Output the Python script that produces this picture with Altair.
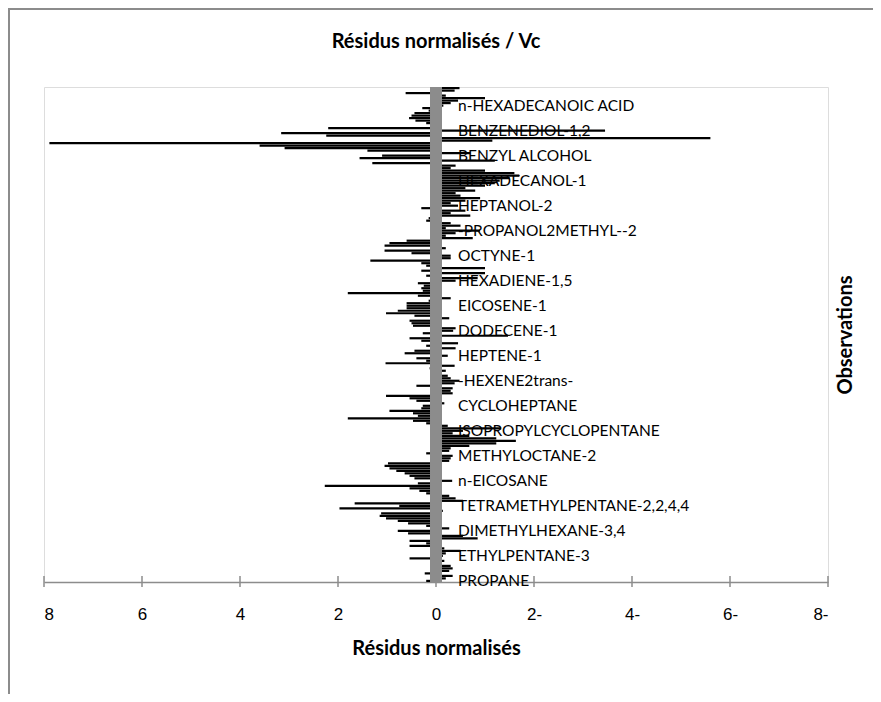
import altair as alt
import pandas as pd

chart_title = "Résidus normalisés / Vc"
x_title = "Résidus normalisés"
y_title = "Observations"

residuals_top_to_bottom = [
    -0.48, -0.38, 0.62, -0.2, -1.0, -0.45, -0.3,
    -0.15, 0.28, 0.15, 0.44, 0.5, 0.55, 0.42, 0.2, -0.1, 2.2,
    -3.45, 3.16, 2.24, -5.6, -1.15, 7.89, 3.6, 3.09, 1.4, -0.7,
    1.1, 1.56, -1.2, 1.3, -0.4, -0.3, -1.0, -1.6, -1.7, -1.5,
    -1.3, -1.2, -1.0, -0.6, -0.8, -0.4, -0.5, -0.9, -0.6, -0.3,
    -0.45, 0.3, -0.6, -0.3, -0.7, 0.15, 0.2, -0.3, -0.5, -0.2,
    -0.9, -0.4, -0.2, -0.75, 0.6, 0.95, 1.05, -0.2, 1.05, 0.5,
    -0.3, -0.3, 1.34, 0.3, 0.2, -1.0, 0.3, -1.0, 0.2, -0.85,
    -0.4, 0.37, 0.25, 0.3, 0.27, 1.8, 0.37, -0.3, 0.15, 0.6,
    0.6, 0.6, 0.78, 1.02, 0.44, -0.27, 0.54, 0.5, 0.47, -0.4,
    -0.35, 0.27, -1.47, 0.54, 0.3, -0.45, 0.2, -0.4, 0.44, 0.64,
    -0.24, 0.4, 0.2, 1.03, -0.38, 0.13, -0.2, 0.1, -0.24, -0.3,
    -0.48, -0.38, 0.4, -0.34, -0.3, -0.34, 1.02, 0.54, 0.4, -0.17,
    0.27, 0.3, 0.95, 0.47, 0.37, 1.8, 0.47, 0.2, -0.24, -1.33,
    -0.55, -0.34, -0.68, -1.23, -1.63, -1.23, -0.68, -0.3, -0.27, 0.2,
    -0.34, -0.3, -0.27, 0.98, 1.05, 0.95, 0.81, 0.64, 0.54, 0.44,
    -0.33, 0.37, 2.27, 0.54, 0.34, 0.2, -0.27, -0.4, -0.55, 1.66,
    0.75, 1.97, -0.14, 1.12, 1.15, 1.02, 0.78, 0.57, 0.2, -0.27,
    0.78, 0.57, -0.55, -0.85, 0.54, 0.2, 0.54, -0.17, -0.5, -0.2,
    -0.14, 0.54, -0.17, 0.1, -0.3, -0.34, -0.27, 0.23, -0.34, -0.2,
    0.2,
]

# category labels shown on the axis (every 10th observation), top first
label_names_top_to_bottom = [
    "n-HEXADECANOIC ACID", "BENZENEDIOL-1,2", "BENZYL ALCOHOL",
    "HEXADECANOL-1", "HEPTANOL-2", "-PROPANOL2METHYL--2", "OCTYNE-1",
    "HEXADIENE-1,5", "EICOSENE-1", "DODECENE-1", "HEPTENE-1",
    "-HEXENE2trans-", "CYCLOHEPTANE", "ISOPROPYLCYCLOPENTANE",
    "METHYLOCTANE-2", "n-EICOSANE", "TETRAMETHYLPENTANE-2,2,4,4",
    "DIMETHYLHEXANE-3,4", "ETHYLPENTANE-3", "PROPANE",
]
label_step = 10
x_ticks = [-8, -6, -4, -2, 0, 2, 4, 6, 8]

N = len(residuals_top_to_bottom)
bars = pd.DataFrame({
    "obs": [str(N - 1 - k) for k in range(N)],
    "res": residuals_top_to_bottom,
})
nl = len(label_names_top_to_bottom)
labels = pd.DataFrame({
    "obs": [str((nl - 1 - k) * label_step) for k in range(nl)],
    "name": label_names_top_to_bottom,
    "zero": [0] * nl,
})
ticks = pd.DataFrame({"t": x_ticks})
title_df = pd.DataFrame({"txt": [chart_title]})

W, H = 784, 495
GRAY = "#8c8c8c"

y_dom = [str(i) for i in range(N - 1, -1, -1)]
yscale = alt.Scale(domain=y_dom, paddingInner=0.12, paddingOuter=0)
xscale = alt.Scale(domain=[-8, 8], reverse=True, nice=False)

x_axis = alt.Axis(
    values=x_ticks, title=x_title, grid=False, tickSize=0,
    labelExpr="datum.value < 0 ? format(-datum.value, 'd') + '-' : format(datum.value, 'd')",
    labelFont="Liberation Sans", labelFontSize=17, labelColor="black", labelPadding=24,
    titleFont="Lato", titleFontSize=20, titleFontWeight="bold", titleColor="black",
    titlePadding=16, domainColor=GRAY, domainWidth=1.5,
)
y_axis = alt.Axis(
    orient="right", labels=False, ticks=False, domain=False, grid=False,
    title=y_title, titleAngle=270, titleFont="Lato", titleFontSize=20,
    titleFontWeight="bold", titleColor="black", titlePadding=27,
)

bar_layer = alt.Chart(bars).mark_bar(color="black").encode(
    x=alt.X("res:Q", scale=xscale, axis=x_axis),
    x2=alt.datum(0),
    y=alt.Y("obs:O", scale=yscale, axis=y_axis),
)

zero_band = alt.Chart(ticks).mark_rule(color=GRAY, strokeWidth=11).encode(
    x=alt.datum(0), y=alt.value(0), y2=alt.value(H),
)

tick_layer = alt.Chart(ticks).mark_rule(color=GRAY, strokeWidth=1.5).encode(
    x=alt.X("t:Q"), y=alt.value(H - 6), y2=alt.value(H + 5),
)

text_layer = alt.Chart(labels).mark_text(
    align="left", baseline="middle", dx=22, font="Lato", fontSize=15.5, color="black",
).encode(
    x=alt.X("zero:Q"),
    y=alt.Y("obs:O"),
    text="name:N",
)

title_layer = alt.Chart(title_df).mark_text(
    align="center", baseline="middle", font="Lato", fontSize=20, fontWeight="bold",
    color="black",
).encode(
    x=alt.value(W / 2), y=alt.value(-45), text="txt:N",
)

frame = alt.Chart(ticks.head(1)).mark_rect(
    fillOpacity=0, stroke=GRAY, strokeWidth=2,
).encode(
    x=alt.value(-35), x2=alt.value(W + 200), y=alt.value(-78), y2=alt.value(H + 300),
)

chart = alt.layer(bar_layer, zero_band, tick_layer, text_layer, title_layer, frame).properties(
    width=W, height=H,
    autosize=alt.AutoSizeParams(type="none"),
    padding={"left": 36, "top": 79, "right": 45, "bottom": 112},
).configure_view(stroke=GRAY, strokeWidth=1.5).configure(background="white")

chart.save("out.html", embed_options={"renderer": "svg", "actions": False})
